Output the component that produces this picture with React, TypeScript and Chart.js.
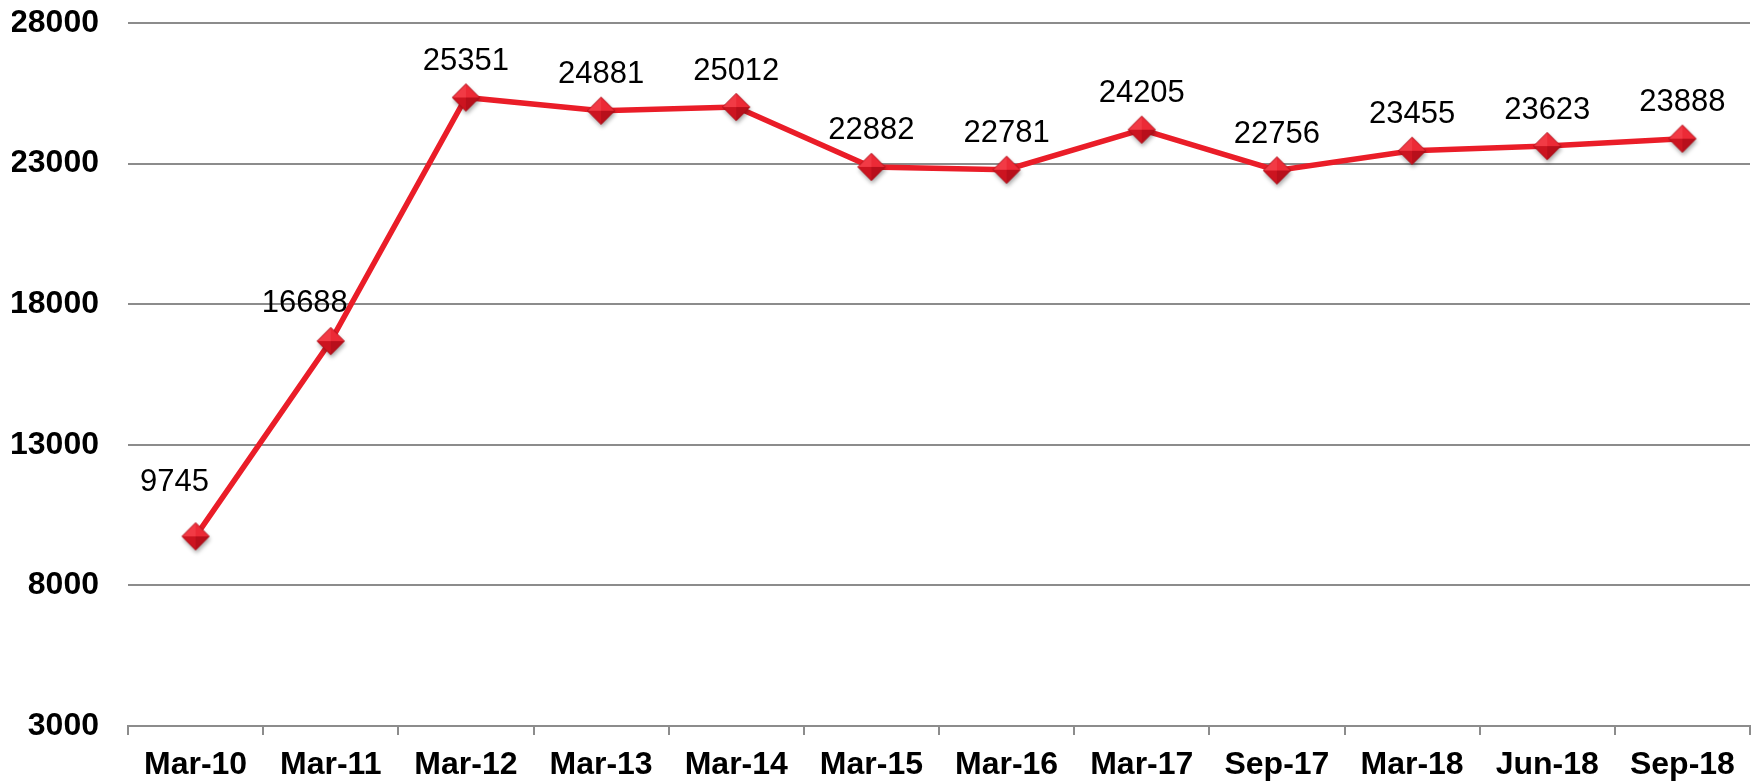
import React, { useEffect, useRef } from "react";
import { Chart, registerables } from "chart.js";

Chart.register(...registerables);

const categories = ["Mar-10", "Mar-11", "Mar-12", "Mar-13", "Mar-14", "Mar-15", "Mar-16", "Mar-17", "Sep-17", "Mar-18", "Jun-18", "Sep-18"];
const values = [9745, 16688, 25351, 24881, 25012, 22882, 22781, 24205, 22756, 23455, 23623, 23888];
const yMin = 3000;
const yMax = 28000;
const yStep = 5000;

function makeMarker(): HTMLCanvasElement {
  const size = 44;
  const c = document.createElement("canvas");
  c.width = size;
  c.height = size;
  const ctx = c.getContext("2d")!;
  const cx = size / 2;
  const cy = size / 2;
  const r = 13.7;
  ctx.save();
  ctx.shadowColor = "rgba(0,0,0,0.35)";
  ctx.shadowBlur = 4;
  ctx.shadowOffsetX = 1;
  ctx.shadowOffsetY = 3;
  ctx.beginPath();
  ctx.moveTo(cx, cy - r);
  ctx.lineTo(cx + r, cy);
  ctx.lineTo(cx, cy + r);
  ctx.lineTo(cx - r, cy);
  ctx.closePath();
  ctx.fillStyle = "#d81a26";
  ctx.fill();
  ctx.restore();
  const facet = (pts: number[][], color: string) => {
    ctx.beginPath();
    ctx.moveTo(pts[0][0], pts[0][1]);
    for (let i = 1; i < pts.length; i++) ctx.lineTo(pts[i][0], pts[i][1]);
    ctx.closePath();
    ctx.fillStyle = color;
    ctx.fill();
  };
  facet([[cx, cy - r], [cx, cy], [cx - r, cy]], "#f23a45");
  facet([[cx, cy - r], [cx + r, cy], [cx, cy]], "#ec2a36");
  facet([[cx - r, cy], [cx, cy], [cx, cy + r]], "#cc1420");
  facet([[cx, cy], [cx + r, cy], [cx, cy + r]], "#b80f1b");
  ctx.beginPath();
  ctx.moveTo(cx, cy - r);
  ctx.lineTo(cx + r, cy);
  ctx.lineTo(cx, cy + r);
  ctx.lineTo(cx - r, cy);
  ctx.closePath();
  ctx.strokeStyle = "rgba(150,10,20,0.6)";
  ctx.lineWidth = 1;
  ctx.stroke();
  return c;
}

const labelPlugin = {
  id: "valueLabels",
  afterDatasetsDraw(chart: any) {
    const ctx = chart.ctx;
    const meta = chart.getDatasetMeta(0);
    ctx.save();
    ctx.font = "31px 'Liberation Sans', Arial, sans-serif";
    ctx.fillStyle = "#000000";
    ctx.textAlign = "center";
    ctx.textBaseline = "middle";
    meta.data.forEach((pt: any, i: number) => {
      let dx = 0;
      let dy = 36;
      if (i === 0) { dx = -21; dy = 54; }
      if (i === 1) { dx = -26; dy = 38; }
      ctx.fillText(String(values[i]), pt.x + dx, pt.y - dy);
    });
    ctx.restore();
  },
};

export default function App() {
  const ref = useRef<HTMLCanvasElement | null>(null);
  useEffect(() => {
    if (!ref.current) return;
    const marker = makeMarker();
    const chart = new Chart(ref.current, {
      type: "line",
      data: {
        labels: categories,
        datasets: [
          {
            data: values,
            borderColor: "#ea1d28",
            borderWidth: 5.5,
            pointStyle: marker as any,
            pointRadius: 14,
            tension: 0,
          },
        ],
      },
      options: {
        animation: false,
        responsive: true,
        maintainAspectRatio: false,
        layout: { autoPadding: false, padding: { left: 12, right: 10, top: 23, bottom: 0 } },
        plugins: { legend: { display: false }, tooltip: { enabled: false } },
        scales: {
          x: {
            offset: true,
            afterFit: (s: any) => {
              s.height = 56;
              s.paddingLeft = 0;
              s.paddingRight = 0;
            },
            grid: { offset: true, drawOnChartArea: false, drawTicks: true, tickLength: 9, color: "#8c8c8c", lineWidth: 2 },
            border: { display: true, color: "#8c8c8c", width: 2 },
            ticks: {
              color: "#000000",
              padding: 11,
              maxRotation: 0,
              autoSkip: false,
              font: { family: "'Liberation Sans', Arial, sans-serif", size: 32, weight: "bold" },
            },
          },
          y: {
            min: yMin,
            max: yMax,
            afterFit: (s: any) => {
              s.width = 116;
              s.paddingTop = 0;
              s.paddingBottom = 0;
            },
            border: { display: false },
            grid: { color: "#8c8c8c", lineWidth: 2, drawTicks: false },
            ticks: {
              stepSize: yStep,
              color: "#000000",
              padding: 29,
              callback: (v: any) => String(v),
              font: { family: "'Liberation Sans', Arial, sans-serif", size: 32, weight: "bold" },
            },
          },
        },
      },
      plugins: [labelPlugin],
    });
    return () => chart.destroy();
  }, []);
  return (
    <div style={{ position: "absolute", left: 0, top: 0, width: 1760, height: 782, background: "#fff" }}>
      <canvas ref={ref} />
    </div>
  );
}
